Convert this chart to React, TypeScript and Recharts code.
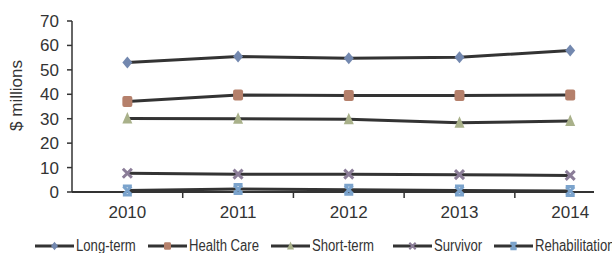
import { Legend, Line, LineChart, XAxis, YAxis } from 'recharts';

const years = [2010, 2011, 2012, 2013, 2014];
const longTerm = [53.0, 55.5, 54.8, 55.2, 57.9];
const healthCare = [37.0, 39.7, 39.5, 39.5, 39.7];
const shortTerm = [30.1, 30.0, 29.8, 28.3, 29.1];
const survivor = [7.7, 7.3, 7.3, 7.1, 6.8];
const rehabilitation = [0.6, 1.2, 0.9, 0.6, 0.4];

const yTicks = [0, 10, 20, 30, 40, 50, 60, 70];
// whole years get a label, half years get the tick mark between categories
const xTicks = [2010, 2010.5, 2011, 2011.5, 2012, 2012.5, 2013, 2013.5, 2014];

const data = years.map((year, i) => ({
  year,
  longTerm: longTerm[i],
  healthCare: healthCare[i],
  shortTerm: shortTerm[i],
  survivor: survivor[i],
  rehabilitation: rehabilitation[i],
}));

type Shape = 'diamond' | 'square' | 'triangle' | 'cross' | 'star';

const series: { key: string; name: string; color: string; shape: Shape; width: number }[] = [
  { key: 'longTerm', name: 'Long-term', color: '#7388af', shape: 'diamond', width: 113 },
  { key: 'healthCare', name: 'Health Care', color: '#b5806b', shape: 'square', width: 123 },
  { key: 'shortTerm', name: 'Short-term', color: '#a9b18a', shape: 'triangle', width: 122 },
  { key: 'survivor', name: 'Survivor', color: '#8b7d98', shape: 'cross', width: 101 },
  { key: 'rehabilitation', name: 'Rehabilitation', color: '#7ba3cc', shape: 'star', width: 140 },
];

const LINE = '#333333';
const TEXT = '#333333';
const FONT = '"Liberation Sans", Arial, sans-serif';

function marker(shape: Shape, cx: number, cy: number, color: string, s = 1) {
  switch (shape) {
    case 'diamond':
      return (
        <polygon
          points={`${cx},${cy - 6 * s} ${cx + 5 * s},${cy} ${cx},${cy + 6 * s} ${cx - 5 * s},${cy}`}
          fill={color}
        />
      );
    case 'square':
      return <rect x={cx - 5 * s} y={cy - 5.5 * s} width={10 * s} height={11 * s} rx={2 * s} fill={color} />;
    case 'triangle':
      return (
        <polygon
          points={`${cx},${cy - 6.5 * s} ${cx + 5 * s},${cy + 5 * s} ${cx - 5 * s},${cy + 5 * s}`}
          fill={color}
        />
      );
    case 'cross':
      return (
        <path
          d={`M${cx - 4.5 * s},${cy - 4.5 * s}L${cx + 4.5 * s},${cy + 4.5 * s}M${cx + 4.5 * s},${cy - 4.5 * s}L${cx - 4.5 * s},${cy + 4.5 * s}`}
          stroke={color}
          strokeWidth={3 * s}
        />
      );
    default:
      return (
        <path
          d={`M${cx - 4 * s},${cy - 4 * s}L${cx + 4 * s},${cy + 4 * s}M${cx + 4 * s},${cy - 4 * s}L${cx - 4 * s},${cy + 4 * s}M${cx - 4.5 * s},${cy - 4.5 * s}H${cx + 4.5 * s}M${cx - 4.5 * s},${cy + 4.5 * s}H${cx + 4.5 * s}`}
          stroke={color}
          strokeWidth={3 * s}
        />
      );
  }
}

function YearTick(props: any) {
  const { x, y, payload } = props;
  const v = payload.value;
  if (Number.isInteger(v)) {
    return (
      <text x={x} y={y} dy="0.71em" textAnchor="middle" fontSize={17} fill={TEXT} fontFamily={FONT}>
        {v}
      </text>
    );
  }
  const axisY = y - 14;
  return <line x1={x} x2={x} y1={axisY} y2={axisY + 6} stroke={LINE} strokeWidth={1.5} />;
}

function YLabel(props: any) {
  const { x, y, height } = props.viewBox;
  const cx = x - 4;
  const cy = y + height / 2 - 11;
  return (
    <text
      transform={`translate(${cx},${cy}) rotate(-90)`}
      textAnchor="middle"
      dominantBaseline="central"
      fontSize={17}
      fill={TEXT}
      fontFamily={FONT}
    >
      $ millions
    </text>
  );
}

function LegendBox() {
  return (
    <div style={{ height: 31, paddingTop: 16, paddingLeft: 35, boxSizing: 'border-box', display: 'flex', fontFamily: FONT }}>
      {series.map((s) => (
        <div key={s.key} style={{ width: s.width, display: 'flex', alignItems: 'center', height: 16, flexShrink: 0 }}>
          <svg width={39} height={14} style={{ display: 'block', flexShrink: 0 }}>
            <line x1={0} x2={39} y1={7} y2={7} stroke={LINE} strokeWidth={3} />
            {marker(s.shape, 19.5, 7, s.color, 0.7)}
          </svg>
          <span
            style={{
              fontSize: 16,
              color: TEXT,
              marginLeft: 2,
              whiteSpace: 'nowrap',
              display: 'inline-block',
              transform: 'scaleX(0.82)',
              transformOrigin: 'left center',
            }}
          >
            {s.name}
          </span>
        </div>
      ))}
    </div>
  );
}

export default function App() {
  return (
    <div style={{ position: 'absolute', left: 0, top: 0, width: 612, height: 253, overflow: 'hidden', background: '#fff' }}>
      <LineChart width={612} height={253} data={data} margin={{ top: 21, right: 18, bottom: 0, left: 20 }}>
        <XAxis
          type="number"
          dataKey="year"
          domain={[2009.5, 2014.215]}
          allowDataOverflow
          ticks={xTicks}
          interval={0}
          tick={<YearTick />}
          tickLine={false}
          tickSize={6}
          tickMargin={8}
          height={30}
          axisLine={{ stroke: LINE, strokeWidth: 2 }}
        />
        <YAxis
          domain={[0, 70]}
          ticks={yTicks}
          interval={0}
          width={52}
          tickSize={5}
          tickMargin={8}
          tick={{ fontSize: 17, fill: TEXT, fontFamily: FONT }}
          tickLine={{ stroke: LINE, strokeWidth: 1.5 }}
          axisLine={{ stroke: LINE, strokeWidth: 1.5 }}
          label={<YLabel />}
        />
        <Legend verticalAlign="bottom" content={<LegendBox />} wrapperStyle={{ left: 0, width: 612 }} />
        {series.map((s) => (
          <Line
            key={s.key}
            dataKey={s.key}
            name={s.name}
            type="linear"
            stroke={LINE}
            strokeWidth={3}
            isAnimationActive={false}
            dot={(p: any) => <g key={`${s.key}-${p.index}`}>{marker(s.shape, p.cx, p.cy, s.color)}</g>}
            activeDot={false}
          />
        ))}
      </LineChart>
    </div>
  );
}
